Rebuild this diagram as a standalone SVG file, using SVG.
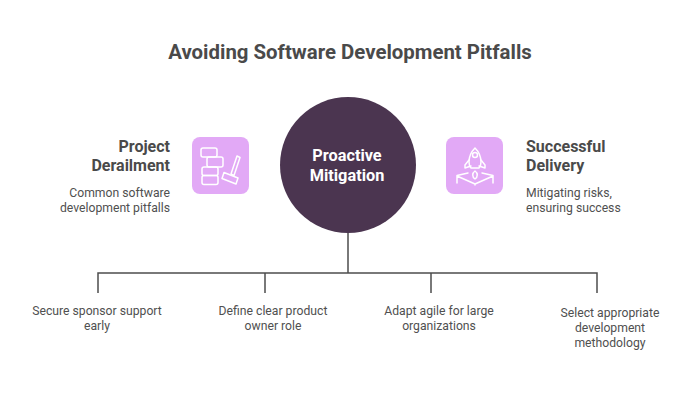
<svg xmlns="http://www.w3.org/2000/svg" width="700" height="400" viewBox="0 0 700 400">
<style>
text{font-family:Roboto,"Liberation Sans",sans-serif;fill:#505050}
.t{font-size:20.4px;font-weight:700;text-anchor:middle;fill:#4a4a4a}
.h{font-size:16px;font-weight:700;fill:#4a4a4a}
.d{font-size:12.2px}
.b{font-size:12.2px;text-anchor:middle}
.c{font-size:16.3px;font-weight:700;fill:#fff;text-anchor:middle}
.i{fill:none;stroke:#fff;stroke-width:1.5;stroke-linejoin:round;stroke-linecap:round}
.l{fill:none;stroke:#4d4d4d;stroke-width:1.5}
</style>
<rect width="700" height="400" fill="#fff"/>
<text class="t" x="350" y="59">Avoiding Software Development Pitfalls</text>
<g id="connectors">
<path class="l" d="M348 233V273M98 293V273H597V293M265 273V293M431 273V293"/>
</g>
<g id="center"><circle cx="348" cy="165" r="68" fill="#4b3550"/>
<text class="c" x="347" y="161">Proactive</text><text class="c" x="347" y="181">Mitigation</text></g>
<g id="derailment">
<text class="h" x="170" y="152" text-anchor="end">Project</text>
<text class="h" x="170" y="171" text-anchor="end">Derailment</text>
<text class="d" x="170" y="197" text-anchor="end">Common software</text>
<text class="d" x="170" y="212" text-anchor="end">development pitfalls</text>
<rect x="192" y="137" width="57" height="57" rx="8" fill="#e2a9f6"/>
<g class="i"><rect x="201" y="148" width="16" height="9" rx="2"/><rect x="207" y="157" width="16" height="10" rx="2"/><rect x="202" y="167" width="16" height="8.500" rx="2"/><rect x="202" y="175.500" width="16" height="9" rx="2"/>
<path d="M237 156L240 157.500L234 175.500L231 174Z"/><path d="M224 172.500L238 178L236 184L222 178.500Z"/></g>
</g>
<g id="delivery">
<text class="h" x="526" y="152">Successful</text>
<text class="h" x="526" y="171">Delivery</text>
<text class="d" x="526" y="197">Mitigating risks,</text>
<text class="d" x="526" y="212">ensuring success</text>
<rect x="446" y="137" width="57" height="57" rx="8" fill="#e2a9f6"/>
<g class="i"><path d="M475 148C471 152 469 157 469 162C469 164 470 167 471 168H479C480 167 481 164 481 162C481 157 479 152 475 148Z"/><circle cx="475" cy="155" r="2.500"/><path d="M469 160L465 165V168L471 166M481 160L485 165V168L479 166"/><path d="M475 171C472 173 472 177 475 179C478 177 478 173 475 171Z"/><path d="M468 173L457 175.500V183M482 173L493 175.500V183M457 176L475 184L493 176M475 184V185"/></g>
</g>
<g id="b1"><text class="b" x="97" y="315">Secure sponsor support</text><text class="b" x="97" y="330">early</text></g>
<g id="b2"><text class="b" x="273" y="315">Define clear product</text><text class="b" x="273" y="330">owner role</text></g>
<g id="b3"><text class="b" x="439" y="315">Adapt agile for large</text><text class="b" x="439" y="330">organizations</text></g>
<g id="b4"><text class="b" x="610" y="317">Select appropriate</text><text class="b" x="610" y="332">development</text><text class="b" x="610" y="347">methodology</text></g>
</svg>
